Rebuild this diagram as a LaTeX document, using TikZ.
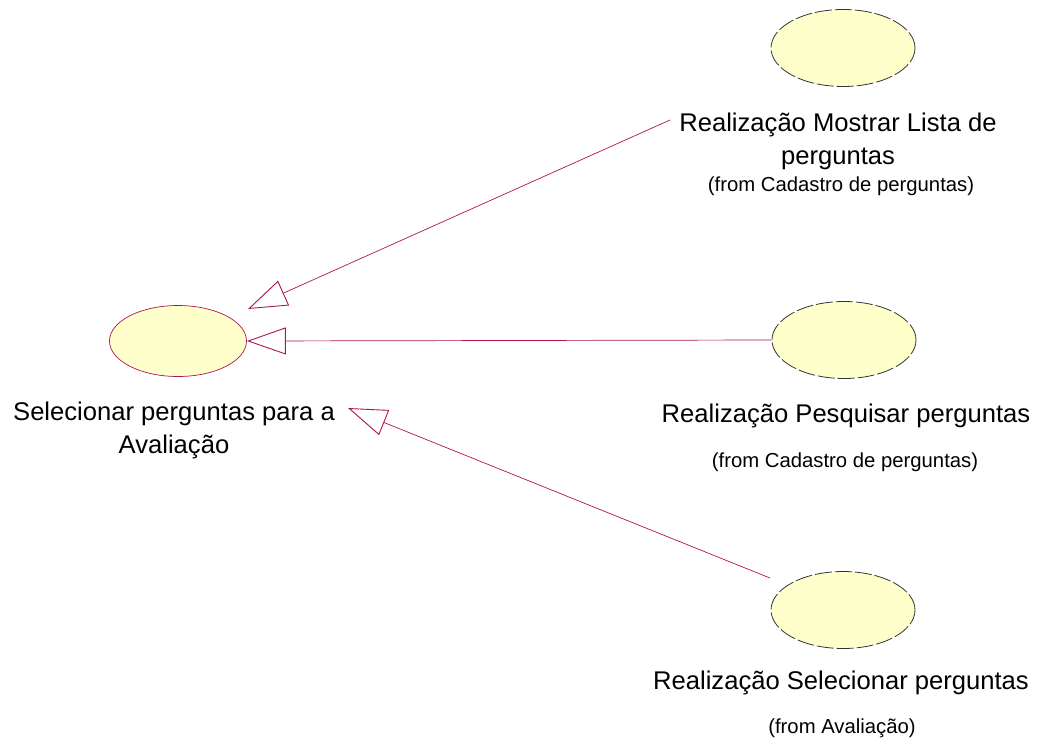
\documentclass[tikz,border=0pt]{standalone}
\usepackage{fontspec}
\setmainfont{Liberation Sans}
\usetikzlibrary{shapes.geometric,arrows.meta}

\definecolor{rosered}{RGB}{175,20,80}
\definecolor{caseyellow}{RGB}{255,255,204}

\tikzset{
	usecase/.style={ellipse, draw=rosered, fill=caseyellow, line width=0.7pt,
		minimum width=137pt, minimum height=71pt, inner sep=0pt},
	realcase/.style={ellipse, draw=black!80, fill=caseyellow, line width=0.8pt,
		dash pattern=on 17pt off 3pt, minimum width=144pt, minimum height=77pt, inner sep=0pt},
	caselabel/.style={align=center, font=\fontsize{25.6}{33}\selectfont, inner sep=0pt},
	fromlabel/.style={font=\fontsize{20.3}{24}\selectfont, inner sep=0pt},
	gen/.style={draw=rosered, line width=0.7pt,
		-{Triangle[open, length=39pt, width=27pt, line width=0.9pt]}}
}

\begin{document}
\begin{tikzpicture}[x=1pt, y=-1pt]
			%%%	Frame
			\useasboundingbox (0,0) rectangle (1040,745);
			%%%	Use cases
			\node[usecase] (sel) at (178,341) {};
			\node[caselabel] (selLabel) at (174,430) {Selecionar perguntas para a\\Avalia\c{c}\~ao};
			
			\node[realcase] (mostrar) at (843,48) {};
			\node[caselabel] (mostrarLabel) at (838,141) {Realiza\c{c}\~ao Mostrar Lista de\\perguntas};
			\node[fromlabel] (mostrarFrom) at (841,186) {(from Cadastro de perguntas)};
			
			\node[realcase] (pesquisar) at (844,340) {};
			\node[caselabel] (pesquisarLabel) at (846,416) {Realiza\c{c}\~ao Pesquisar perguntas};
			\node[fromlabel] (pesquisarFrom) at (845,462) {(from Cadastro de perguntas)};
			
			\node[realcase] (selreal) at (843,610) {};
			\node[caselabel] (selrealLabel) at (841,683) {Realiza\c{c}\~ao Selecionar perguntas};
			\node[fromlabel] (selrealFrom) at (842,728) {(from Avalia\c{c}\~ao)};
			
			%%%	Generalizations
			\coordinate (mostrarFoot) at (670,120);
			\coordinate (selTop) at (248,309);
			\coordinate (selrealFoot) at (770,578);
			\coordinate (selSide) at (348,408);
			\draw[gen] (mostrarFoot) -- (selTop);
			\draw[gen] (pesquisar.west) -- (sel.east);
			\draw[gen] (selrealFoot) -- (selSide);
		\end{tikzpicture}
\end{document}
